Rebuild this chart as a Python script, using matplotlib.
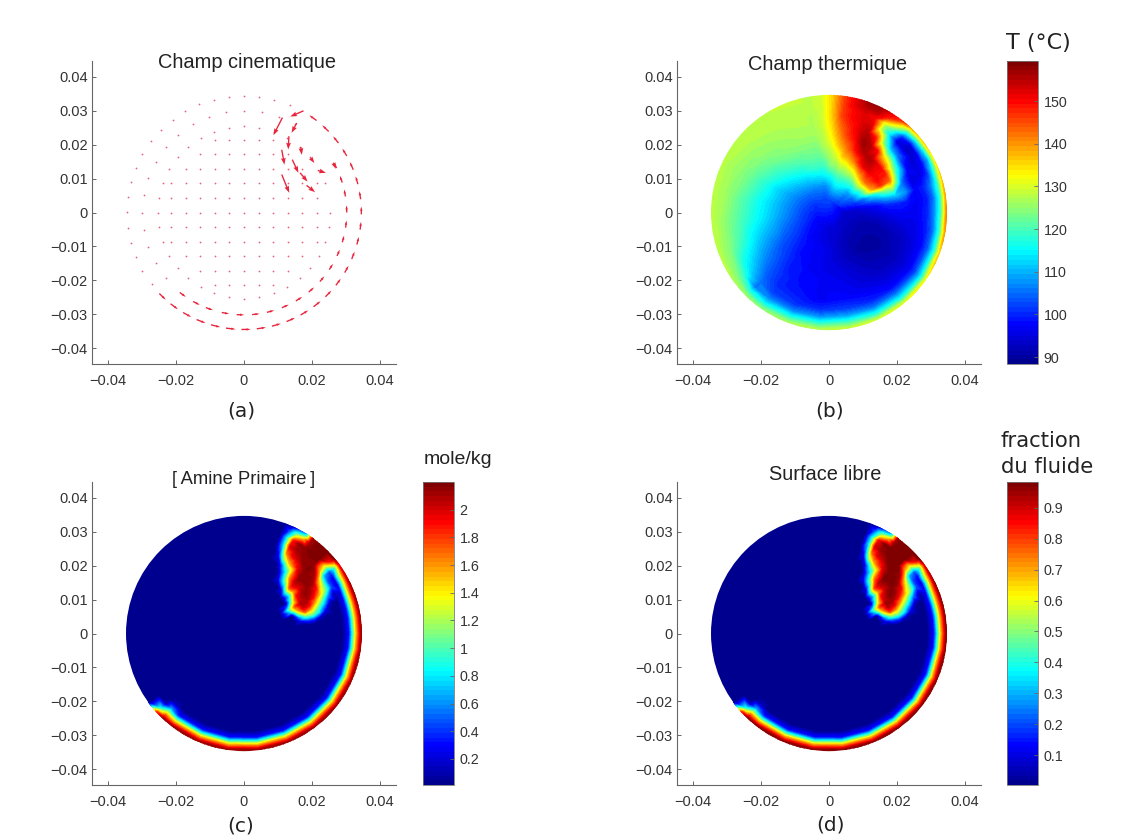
import matplotlib
matplotlib.use("Agg")
import matplotlib.pyplot as plt
import numpy as np
from matplotlib.cm import ScalarMappable
from matplotlib.colors import LinearSegmentedColormap, Normalize
from matplotlib.patches import Circle

plt.rcParams["font.family"] = ["Liberation Sans", "DejaVu Sans"]

W, H = 1135, 839

# nodes of the thermal field: radius (m), angle (deg), T (degC) per angle row
t_radii = [0.004, 0.008, 0.011, 0.014, 0.017, 0.020, 0.023, 0.026, 0.029, 0.031, 0.033, 0.0345, 0.036]
t_angles = [0, 8, 15, 22, 28, 34, 40, 46, 52, 58, 64, 70, 76, 82, 88, 94, 100, 110, 125, 140, 155, 170,
            185, 200, 215, 225, 235, 250, 265, 280, 295, 310, 325, 340, 350]
t_rows = [
    [94, 93, 94, 95, 96, 97, 97, 97, 100, 107, 120, 140, 148],
    [95, 95, 96, 97, 100, 100, 99, 97, 99, 105, 118, 137, 148],
    [97, 99, 102, 105, 110, 112, 108, 97, 100, 106, 118, 135, 145],
    [99, 102, 106, 115, 124, 128, 105, 95, 96, 100, 115, 132, 145],
    [100, 104, 116, 137, 147, 143, 114, 97, 95, 98, 110, 130, 145],
    [101, 106, 118, 141, 150, 148, 122, 100, 94, 96, 112, 132, 150],
    [102, 108, 122, 143, 150, 150, 130, 106, 93, 94, 113, 132, 148],
    [102, 108, 122, 141, 152, 152, 135, 110, 94, 100, 118, 135, 150],
    [102, 110, 120, 137, 152, 156, 150, 125, 112, 120, 135, 147, 152],
    [103, 112, 120, 132, 148, 155, 155, 148, 128, 130, 148, 152, 152],
    [103, 113, 120, 130, 142, 152, 157, 155, 152, 150, 155, 157, 157],
    [103, 114, 120, 128, 138, 146, 150, 152, 152, 152, 155, 157, 157],
    [103, 114, 120, 128, 136, 141, 146, 148, 150, 150, 152, 152, 152],
    [103, 112, 118, 125, 130, 136, 140, 143, 146, 146, 146, 146, 146],
    [103, 110, 116, 124, 127, 130, 133, 135, 136, 136, 136, 136, 136],
    [103, 108, 115, 120, 124, 127, 128, 129, 129, 129, 129, 129, 129],
    [102, 107, 114, 119, 122, 124, 126, 127, 127, 128, 128, 128, 128],
    [102, 107, 113, 119, 122, 124, 126, 127, 128, 128, 128, 129, 129],
    [102, 106, 111, 116, 120, 123, 125, 126, 127, 128, 128, 128, 128],
    [101, 105, 109, 113, 117, 120, 123, 125, 126, 127, 128, 128, 128],
    [100, 104, 107, 110, 113, 117, 120, 123, 125, 126, 127, 128, 128],
    [100, 103, 106, 109, 112, 115, 118, 121, 124, 126, 127, 128, 128],
    [99, 102, 105, 108, 111, 114, 117, 120, 123, 125, 127, 128, 128],
    [98, 101, 103, 105, 108, 110, 113, 117, 121, 124, 126, 128, 128],
    [97, 99, 101, 102, 103, 105, 107, 110, 114, 119, 124, 127, 128],
    [97, 98, 99, 100, 101, 102, 103, 104, 106, 106, 118, 125, 128],
    [96, 97, 98, 98, 99, 99, 100, 100, 102, 107, 116, 124, 127],
    [96, 96, 97, 97, 97, 98, 98, 99, 101, 107, 118, 126, 129],
    [95, 95, 96, 96, 96, 97, 97, 97, 101, 108, 119, 127, 130],
    [95, 94, 94, 94, 95, 96, 97, 98, 102, 109, 120, 128, 131],
    [95, 93, 92, 92, 93, 94, 95, 97, 100, 106, 117, 128, 133],
    [94, 92, 91, 90, 91, 92, 93, 95, 98, 105, 116, 129, 136],
    [94, 92, 91, 90, 90, 91, 92, 94, 97, 103, 115, 130, 140],
    [94, 92, 91, 91, 91, 92, 93, 95, 98, 104, 117, 134, 146],
    [94, 93, 92, 92, 93, 94, 95, 96, 99, 105, 119, 138, 148],
]

# fluid fraction nodes, same idea
f_radii = [0.006, 0.012, 0.015, 0.017, 0.019, 0.021, 0.023, 0.025, 0.027, 0.029, 0.031, 0.033, 0.0345, 0.036]
f_angles = [0, 8, 12, 16, 20, 24, 28, 32, 36, 40, 45, 50, 54, 58, 62, 66, 70, 90, 110, 130, 150, 170, 190,
            206, 216, 222, 226, 232, 247, 262, 277, 292, 307, 322, 337, 352]
empty = [0] * 14
ring = [0, 0, 0, 0, 0, 0, 0, 0, 0, 0, 0.15, 0.67, 0.95, 1]
f_rows = [
    ring,
    ring,
    [0, 0, 0, 0.1, 0.2, 0.2, 0.05, 0, 0, 0, 0.15, 0.67, 0.95, 1],
    [0, 0, 0, 0.25, 0.5, 0.5, 0.35, 0.1, 0, 0, 0.15, 0.67, 0.95, 1],
    [0, 0, 0, 0.5, 0.8, 0.7, 0.5, 0.3, 0.05, 0, 0.15, 0.67, 0.95, 1],
    [0, 0, 0.3, 0.7, 0.92, 0.88, 0.7, 0.5, 0.25, 0.05, 0.12, 0.65, 0.95, 1],
    [0, 0, 0.45, 0.8, 0.95, 0.95, 0.87, 0.7, 0.5, 0.2, 0.08, 0.6, 0.93, 0.98],
    [0, 0, 0.2, 0.6, 0.9, 0.97, 0.95, 0.85, 0.55, 0.2, 0.1, 0.58, 0.9, 0.97],
    [0, 0, 0, 0.45, 0.85, 0.95, 0.97, 0.95, 0.7, 0.3, 0.2, 0.45, 0.85, 0.97],
    [0, 0, 0, 0.3, 0.7, 0.9, 0.97, 0.98, 0.95, 0.7, 0.6, 0.85, 0.98, 1],
    [0, 0, 0, 0.35, 0.8, 0.93, 0.98, 0.98, 0.99, 0.98, 0.99, 1, 1, 1],
    [0, 0, 0, 0.1, 0.45, 0.75, 0.8, 0.9, 0.97, 0.98, 1, 1, 1, 1],
    [0, 0, 0, 0, 0.3, 0.45, 0.55, 0.8, 0.92, 0.97, 0.98, 0.95, 0.95, 0.95],
    [0, 0, 0, 0, 0.1, 0.2, 0.4, 0.7, 0.88, 0.95, 0.97, 0.65, 0.3, 0.2],
    [0, 0, 0, 0, 0, 0, 0.15, 0.5, 0.75, 0.9, 0.85, 0.5, 0.2, 0.1],
    [0, 0, 0, 0, 0, 0, 0, 0.1, 0.25, 0.35, 0.35, 0.2, 0.05, 0],
    empty, empty, empty, empty, empty, empty, empty, empty, empty,
    [0, 0, 0, 0, 0, 0, 0, 0, 0, 0, 0.05, 0.4, 0.8, 0.9],
    [0, 0, 0, 0, 0, 0, 0, 0, 0, 0.05, 0.3, 0.7, 0.95, 0.98],
    [0, 0, 0, 0, 0, 0, 0, 0, 0, 0, 0.15, 0.65, 0.95, 1],
    ring, ring, ring, ring, ring, ring, ring, ring,
]
amine_max = 2.2

# velocity field: big arrows in the hook
arrow_x = [0.0175, 0.0113, 0.0155, 0.0132, 0.0111, 0.0167, 0.0142, 0.0165, 0.0184, 0.0111, 0.0217, 0.0196, 0.0263]
arrow_y = [0.0300, 0.0280, 0.0264, 0.0225, 0.0185, 0.0193, 0.0156, 0.0117, 0.0080, 0.0112, 0.0124, 0.0161, 0.0146]
arrow_u = [-0.0039, -0.00265, -0.0015, -0.0002, 0.0008, 0.0003, 0.0018, 0.0022, 0.0025, 0.0022, 0.0024, 0.0011, 0.0007]
arrow_v = [-0.0017, -0.0052, -0.0029, -0.0039, -0.0044, -0.0023, -0.0039, -0.0026, -0.0020, -0.0054, -0.0007, -0.0015, -0.0017]

# tangential speed on the two outer rings of the mesh
outer_r = 0.0345
outer_deg = [226, 233.5, 241, 248.5, 256, 263.5, 271, 278.5, 286, 293.5, 301, 308.5, 316, 323.5, 331, 338.5,
             346, 353.5, 1, 8.5, 16, 23.5, 31, 38.5, 46, 54]
outer_speed = [0.0026, 0.0027, 0.0027, 0.0028, 0.0028, 0.0028, 0.0027, 0.0027, 0.0027, 0.0027, 0.0026, 0.0026,
               0.0025, 0.0024, 0.0023, 0.0023, 0.0023, 0.0023, 0.0023, 0.0024, 0.0024, 0.0025, 0.0025, 0.0025,
               0.0026, 0.0026]
inner_r = 0.0302
inner_deg = [233.4, 242.4, 250.3, 259.6, 268, 276.6, 285, 293.7, 302.4, 311, 319.5, 328, 336.8, 345, 353.5,
             2, 11, 19, 27.6]
inner_speed = [0.0022, 0.0022, 0.0022, 0.0022, 0.0022, 0.0022, 0.0022, 0.0022, 0.0022, 0.0021, 0.0020, 0.0020,
               0.0020, 0.0020, 0.0021, 0.0021, 0.0021, 0.0021, 0.0020]

# mesh nodes where the speed is close to nil
dot_ring_r = [0.0345, 0.0300, 0.0254]
dot_ring_deg = [[67, 75, 82.5, 90, 97.5, 105, 112.5, 120, 127.5, 135, 142.5, 150, 157.5, 165, 172.5, 180, 187.5,
                 195, 202.5, 210, 218],
                [60, 70, 80, 90, 100, 110, 120, 130, 140, 150, 160, 170, 180, 190, 200, 210, 220],
                [0, 20, 40, 50, 60, 70, 80, 90, 100, 110, 120, 130, 140, 150, 160, 170, 180, 190, 200, 210, 220,
                 230, 240, 250, 260, 270, 280, 290, 300, 310, 320, 330, 340, 350]]
dot_grid = [-0.0215, -0.0172, -0.0129, -0.0086, -0.0043, 0.0, 0.0043, 0.0086, 0.0129, 0.0172, 0.0215]

x_ticks = [-0.04, -0.02, 0, 0.02, 0.04]
x_labels = ["\u22120.04", "\u22120.02", "0", "0.02", "0.04"]
y_ticks = [-0.04, -0.03, -0.02, -0.01, 0, 0.01, 0.02, 0.03, 0.04]
y_labels = ["\u22120.04", "\u22120.03", "\u22120.02", "\u22120.01", "0", "0.01", "0.02", "0.03", "0.04"]

# matlab's jet, yellow sits a bit lower than in matplotlib's
cmap = LinearSegmentedColormap.from_list(
    "matlab_jet",
    [(0, (0, 0, 0.5625)), (0.125, (0, 0, 1)), (0.375, (0, 1, 1)), (0.625, (1, 1, 0)), (0.875, (1, 0, 0)), (1, (0.5, 0, 0))],
    N=64,
)


def box(x0, y0, x1, y1):
    return [x0 / W, 1 - y1 / H, (x1 - x0) / W, (y1 - y0) / H]


def label(x, y, s, size, **kw):
    fig.text(x / W, 1 - y / H, s, fontsize=size, ha=kw.pop("ha", "center"), va="center", color="#222222", **kw)


def make_axes(x0, y0):
    ax = fig.add_axes(box(x0, y0, x0 + 304, y0 + 303))
    ax.set_xlim(-0.0447, 0.0447)
    ax.set_ylim(-0.0447, 0.0447)
    ax.set_xticks(x_ticks, x_labels)
    ax.set_yticks(y_ticks, y_labels)
    ax.tick_params(direction="in", length=3, width=0.7, color="#666666", labelsize=10.5,
                   labelcolor="#333333")
    ax.tick_params(axis="x", pad=7)
    ax.tick_params(axis="y", pad=3)
    ax.spines[["top", "right"]].set_visible(False)
    ax.spines[["left", "bottom"]].set_color("#666666")
    ax.spines[["left", "bottom"]].set_linewidth(0.8)
    return ax


def draw_field(ax, radii, angles, rows, vmin, vmax):
    rr, aa = np.meshgrid(radii, np.radians(angles))
    x = (rr * np.cos(aa)).ravel()
    y = (rr * np.sin(aa)).ravel()
    z = np.array(rows, dtype=float).ravel()
    levels = np.linspace(vmin, vmax, 65)
    cs = ax.tricontourf(x, y, z, levels=levels, cmap=cmap, extend="both", antialiased=False)
    cs.set_clip_path(Circle((0, 0), 0.0347, transform=ax.transData))


def draw_bar(x0, y0, vmin, vmax, bar_ticks, bar_labels):
    cax = fig.add_axes(box(x0, y0, x0 + 31, y0 + 303))
    cb = fig.colorbar(ScalarMappable(Normalize(vmin, vmax), cmap=cmap), cax=cax)
    cb.set_ticks(bar_ticks, labels=bar_labels)
    cb.ax.tick_params(direction="in", length=3, width=0.6, color="#666666", labelsize=10.3,
                      labelcolor="#333333", pad=4)
    cb.minorticks_off()
    cb.outline.set_edgecolor("#777777")
    cb.outline.set_linewidth(0.6)


fig = plt.figure(figsize=(W / 100, H / 100), dpi=100)

# (a) velocity
ax = make_axes(92, 61)
xs, ys = [], []
for r, degs in zip(dot_ring_r, dot_ring_deg):
    xs += [r * np.cos(np.radians(d)) for d in degs]
    ys += [r * np.sin(np.radians(d)) for d in degs]
for gx in dot_grid:
    for gy in dot_grid:
        if np.hypot(gx, gy) < 0.0235:
            xs.append(gx)
            ys.append(gy)
ax.scatter(xs, ys, s=1.6, color="#e8607a", linewidths=0)
for r, degs, speed in [(outer_r, outer_deg, outer_speed), (inner_r, inner_deg, inner_speed)]:
    th = np.radians(degs)
    sp = np.array(speed)
    ax.quiver(r * np.cos(th), r * np.sin(th), -sp * np.sin(th), sp * np.cos(th), angles="xy", scale_units="xy",
              scale=1, units="xy", width=0.0004, headwidth=1.8, headlength=3, headaxislength=3,
              color="#e8253c", pivot="mid")
ax.quiver(arrow_x, arrow_y, arrow_u, arrow_v, angles="xy", scale_units="xy", scale=1, units="xy", width=0.0004,
          headwidth=3.5, headlength=5, headaxislength=4.5, color="#e8253c")

# (b) temperature
ax = make_axes(677, 61)
draw_field(ax, t_radii, t_angles, t_rows, 88.4, 159.4)
draw_bar(1007, 61, 88.4, 159.4, [90, 100, 110, 120, 130, 140, 150], ["90", "100", "110", "120", "130", "140", "150"])

# (c) amine
ax = make_axes(92, 482)
draw_field(ax, f_radii, f_angles, np.array(f_rows) * amine_max, 0.012, amine_max)
draw_bar(423, 482, 0.012, amine_max, [0.2, 0.4, 0.6, 0.8, 1, 1.2, 1.4, 1.6, 1.8, 2],
         ["0.2", "0.4", "0.6", "0.8", "1", "1.2", "1.4", "1.6", "1.8", "2"])

# (d) free surface
ax = make_axes(677, 482)
draw_field(ax, f_radii, f_angles, f_rows, 0.003, 0.984)
draw_bar(1007, 482, 0.003, 0.984, [0.1, 0.2, 0.3, 0.4, 0.5, 0.6, 0.7, 0.8, 0.9],
         ["0.1", "0.2", "0.3", "0.4", "0.5", "0.6", "0.7", "0.8", "0.9"])

label(247, 62, "Champ cinematique", 14.4)
label(827, 65, "Champ thermique", 14.4)
label(244, 479, "[\u2009Amine Primaire\u2009]", 13.2)
label(825, 475, "Surface libre", 14.4)
label(241, 411, "(a)", 14.5, family="DejaVu Sans")
label(830, 411, "(b)", 14.5, family="DejaVu Sans")
label(241, 826, "(c)", 14.5, family="DejaVu Sans")
label(830, 825, "(d)", 14.5, family="DejaVu Sans")
label(1038, 43, "T (\u00b0C)", 16, family="DejaVu Sans")
label(458, 460, "mole/kg", 14)
label(1001, 441, "fraction", 15.2, ha="left", family="DejaVu Sans")
label(1001, 467, "du fluide", 15.2, ha="left", family="DejaVu Sans")

fig.savefig("out.png", dpi=100)
